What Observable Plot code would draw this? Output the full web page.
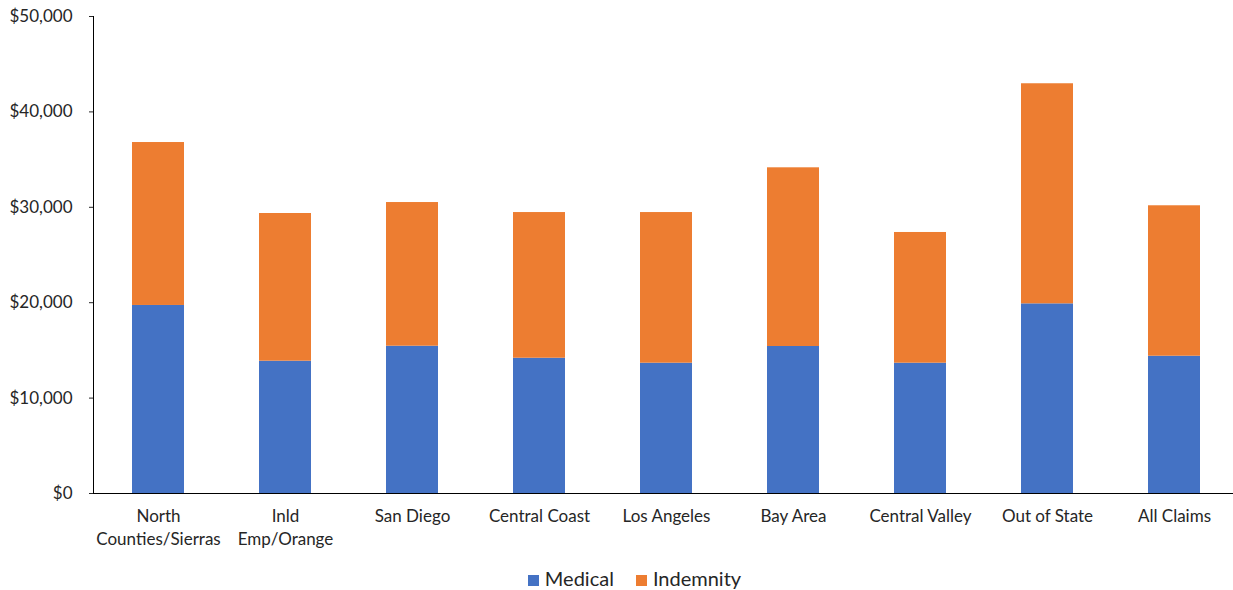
<!DOCTYPE html>
<html>
<head>
<meta charset="utf-8">
<script src="https://cdn.jsdelivr.net/npm/d3@7"></script>
<script src="https://cdn.jsdelivr.net/npm/@observablehq/plot@0.6"></script>
<style>
  html, body { margin: 0; padding: 0; background: #fff; overflow: hidden; }
  #legend { display: flex; justify-content: center; align-items: center; gap: 22px;
    font-family: Lato, "Open Sans", sans-serif; font-size: 20px; color: #262626;
    margin-left: 36px; margin-top: 6px; }
  #legend span.sw { display: inline-block; width: 11px; height: 11px; margin-right: 6px; }
</style>
</head>
<body>
<div id="chart"></div>
<div id="legend"></div>
<script>
const regions = ["North\nCounties/Sierras", "Inld\nEmp/Orange", "San Diego", "Central Coast", "Los Angeles", "Bay Area", "Central Valley", "Out of State", "All Claims"];
const medical   = [19710, 13870, 15440, 14180, 13660, 15410, 13660, 19880, 14390];
const indemnity = [17080, 15480, 15060, 15270, 15790, 18730, 13700, 23070, 15770];
const series = ["Medical", "Indemnity"];
const colors = ["#4472C4", "#ED7D31"];
const yTicks = [0, 10000, 20000, 30000, 40000, 50000];

const data = regions.flatMap((r, i) => [
  {region: r, type: series[0], value: medical[i]},
  {region: r, type: series[1], value: indemnity[i]}
]);

const fmt = d => "$" + d3.format(",")(d);

const chart = Plot.plot({
  width: 1233,
  height: 560,
  marginLeft: 93,
  marginTop: 16,
  marginBottom: 67,
  marginRight: 0,
  style: {fontFamily: "Lato, 'Open Sans', sans-serif", fontSize: "17px", color: "#262626", background: "#fff"},
  x: {domain: regions, range: [93, 1240], paddingInner: 0.59, paddingOuter: 0.295, label: null},
  y: {domain: [0, 50000], label: null},
  color: {domain: series, range: colors},
  marks: [
    Plot.barY(data, {x: "region", y: "value", fill: "type"}),
    Plot.axisY({ticks: yTicks, tickFormat: fmt, tickSize: 4, tickPadding: 17, label: null, fontSize: 17}),
    Plot.axisX({tickSize: 0, tickPadding: 11, lineHeight: 1.41, label: null, fontSize: 17}),
    Plot.frame({anchor: "left", stroke: "#000"}),
    Plot.ruleY([0], {stroke: "#000"})
  ]
});
document.getElementById("chart").appendChild(chart);

const legend = document.getElementById("legend");
series.forEach((s, i) => {
  const item = document.createElement("div");
  item.innerHTML = `<span class="sw" style="background:${colors[i]}"></span>${s}`;
  legend.appendChild(item);
});
</script>
</body>
</html>
